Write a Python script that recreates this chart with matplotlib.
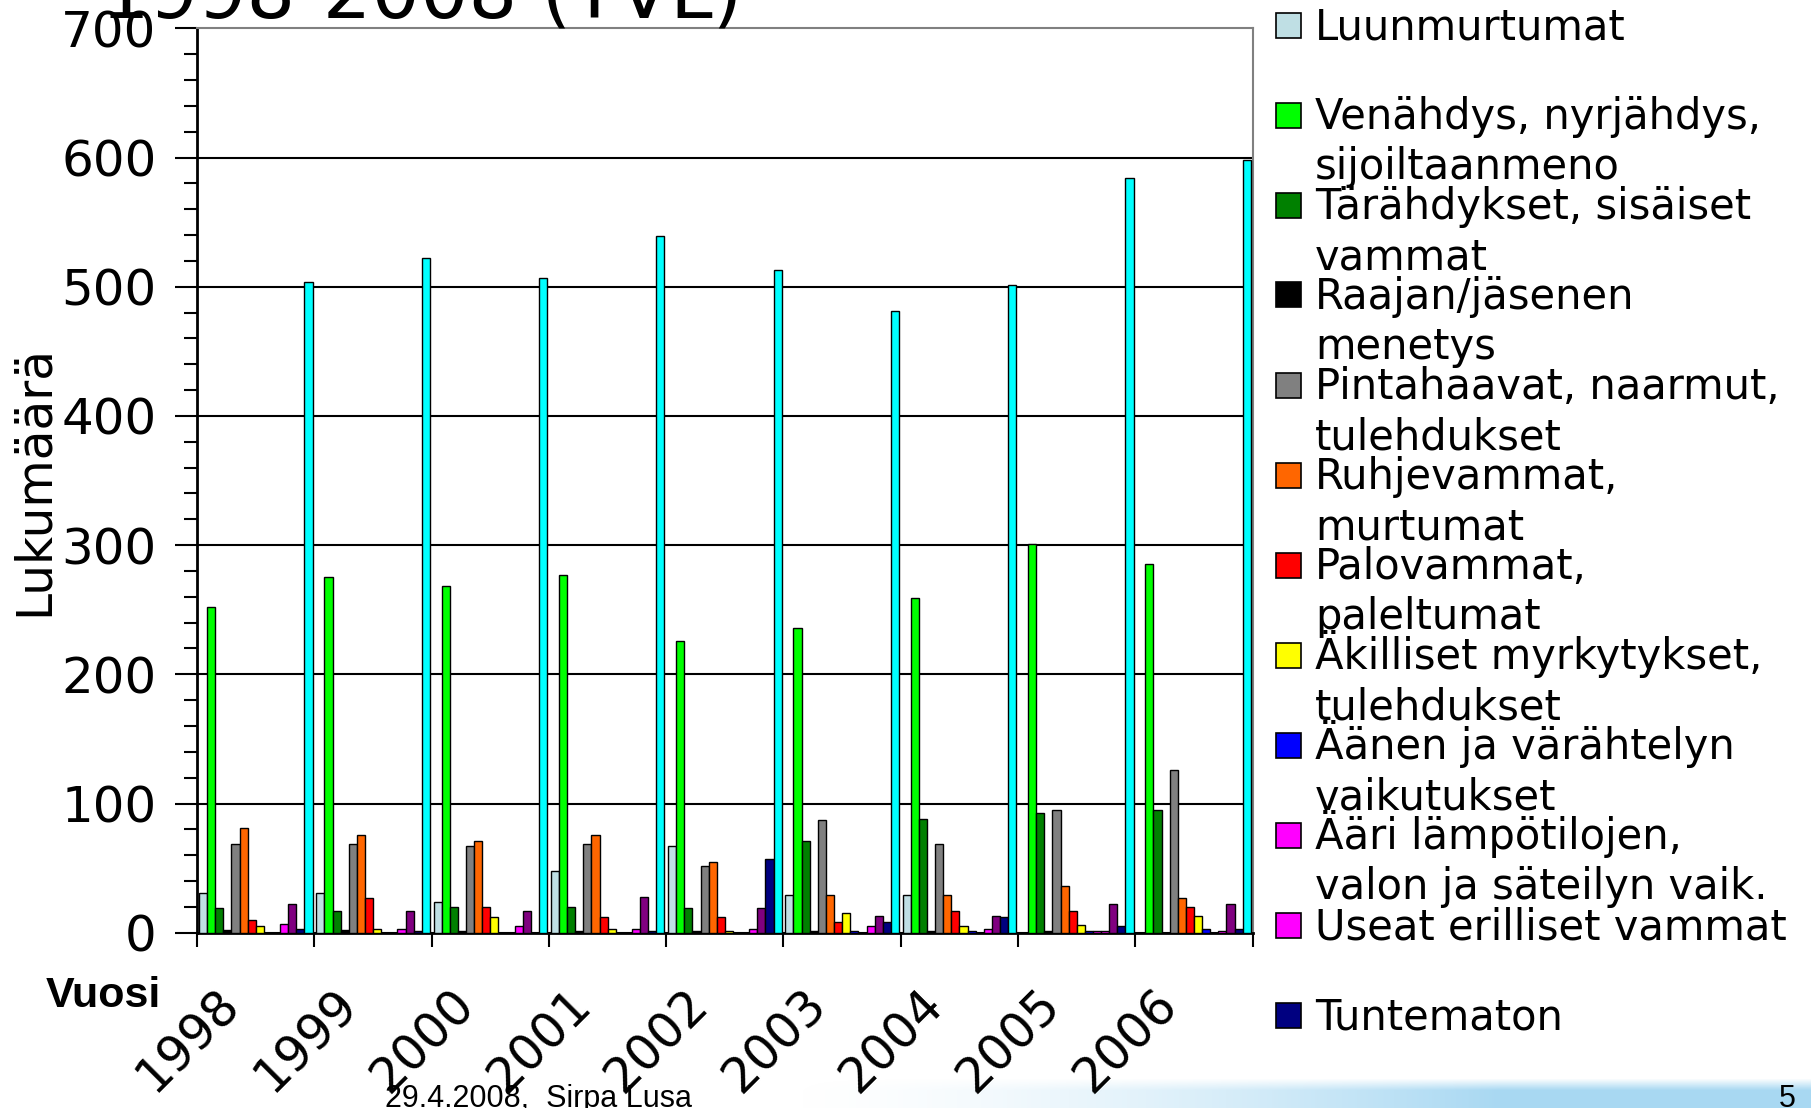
import numpy as np
import matplotlib.pyplot as plt
from matplotlib.patches import Rectangle


years = ["1998", "1999", "2000", "2001", "2002", "2003", "2004", "2005", "2006"]

# values per year (one list per injury type, in bar order)
luunmurtumat = [31, 31, 24, 48, 67, 29, 29, 0, 0]
venahdys = [252, 275, 268, 277, 226, 236, 259, 301, 285]
tarahdykset = [19, 17, 20, 20, 19, 71, 88, 93, 95]
raajan_menetys = [2, 2, 1, 1, 1, 1, 1, 1, 0]
pintahaavat = [69, 69, 67, 69, 52, 87, 69, 95, 126]
ruhjevammat = [81, 76, 71, 76, 55, 29, 29, 36, 27]
palovammat = [10, 27, 20, 12, 12, 8, 17, 17, 20]
myrkytykset = [5, 3, 12, 3, 1, 15, 5, 6, 13]
aani_varahtely = [0, 0, 0, 0, 0, 1, 1, 1, 3]
aari_lampotilat = [0, 0, 0, 0, 0, 0, 0, 1, 0]
useat_vammat = [7, 3, 5, 3, 3, 5, 3, 1, 1]
muu_violetti = [22, 17, 17, 28, 19, 13, 13, 22, 22]
tuntematon = [3, 1, 0, 1, 57, 8, 12, 5, 3]
muu_turkoosi = [504, 522, 507, 539, 513, 481, 501, 584, 598]

series = [
    ("Luunmurtumat", "#BFDFE4", luunmurtumat),
    ("Venähdys, nyrjähdys,\nsijoiltaanmeno", "#00FF00", venahdys),
    ("Tärähdykset, sisäiset\nvammat", "#008000", tarahdykset),
    ("Raajan/jäsenen\nmenetys", "#000000", raajan_menetys),
    ("Pintahaavat, naarmut,\ntulehdukset", "#808080", pintahaavat),
    ("Ruhjevammat,\nmurtumat", "#FF6600", ruhjevammat),
    ("Palovammat,\npaleltumat", "#FF0000", palovammat),
    ("Äkilliset myrkytykset,\ntulehdukset", "#FFFF00", myrkytykset),
    ("Äänen ja värähtelyn\nvaikutukset", "#0000FF", aani_varahtely),
    ("Ääri lämpötilojen,\nvalon ja säteilyn vaik.", "#FF00FF", aari_lampotilat),
    ("Useat erilliset vammat", "#FF00FF", useat_vammat),
    (None, "#800080", muu_violetti),
    ("Tuntematon", "#000080", tuntematon),
    (None, "#00FFFF", muu_turkoosi),
]

W, H = 1811, 1108
fig = plt.figure(figsize=(W / 100, H / 100), dpi=100)
ax = fig.add_axes([197 / W, 1 - 932.7 / H, (1252.5 - 197) / W, (932.7 - 28.3) / H])

x = np.arange(len(years))
slot = 0.0692
start = 0.017
for k, (name, color, vals) in enumerate(series):
    ax.bar(x + start + k * slot, vals, width=slot, align="edge", color=color,
           edgecolor="black", linewidth=1.0, zorder=3)

ax.set_xlim(0, len(years))
ax.set_ylim(0, 700)

ax.set_xticks(np.arange(len(years) + 1))
ax.set_xticklabels([])
ax.set_xticks(x + 0.154, years, minor=True)
ax.tick_params(axis="x", which="major", direction="out", length=10, width=1.5)
ax.tick_params(axis="x", which="minor", length=0, pad=34, labelsize=35)
for lbl in ax.get_xticklabels(minor=True):
    lbl.set_rotation(45)
    lbl.set_ha("right")
    lbl.set_va("top")
    lbl.set_rotation_mode("anchor")

ax.set_yticks(range(0, 701, 100))
ax.set_yticks(range(0, 701, 20), minor=True)
ax.tick_params(axis="y", which="major", length=16, width=1.5, pad=13, labelsize=36)
ax.tick_params(axis="y", which="minor", length=9.5, width=1.5)
ax.grid(axis="y", which="major", color="black", linewidth=1.5)
ax.set_axisbelow(True)
ax.yaxis.get_gridlines()[-1].set_visible(False)

for side in ["left", "bottom"]:
    ax.spines[side].set_color("black")
    ax.spines[side].set_linewidth(2)
for side in ["top", "right"]:
    ax.spines[side].set_color("#808080")
    ax.spines[side].set_linewidth(1.5)

ax.set_ylabel("Lukumäärä", fontsize=35)
ax.yaxis.set_label_coords(-0.132, 0.5)

# title, partly off the top of the slide
fig.text(0.056, 1 - 17 / H, "1998-2008 (TVL)", fontsize=55, va="baseline", ha="left")

fig.text(46 / W, 1 - 1007 / H, "Vuosi", family="Liberation Sans", fontweight="bold",
         fontsize=31, va="baseline")

# legend drawn by hand to keep the fixed row spacing of the original
row = 0
for name, color, vals in series:
    if name is None:
        continue
    cy = 25 + 90 * row
    fig.patches.append(Rectangle((1276 / W, 1 - (cy + 12.5) / H), 25 / W, 25 / H,
                                 facecolor=color, edgecolor="black", linewidth=1.2,
                                 transform=fig.transFigure, figure=fig))
    for j, line in enumerate(name.split("\n")):
        fig.text(1315 / W, 1 - (cy + 14 + 50 * j) / H, line, fontsize=30, va="baseline")
    row += 1

# slide footer
band = fig.add_axes([0.43, 0, 0.57, 0.027], zorder=-1)
band.axis("off")
gx = np.linspace(0, 1, 400)
gy = np.linspace(0, 1, 30)
img = np.zeros((30, 400, 4))
img[..., 0] = 0.66
img[..., 1] = 0.85
img[..., 2] = 0.95
img[..., 3] = (np.clip(gx / 0.7, 0, 1) ** 1.6)[None, :] * (np.clip(gy / 0.4, 0, 1))[:, None]
band.imshow(img, aspect="auto", origin="upper", extent=[0, 1, 0, 1])
band.set_xlim(0, 1)
band.set_ylim(0, 1)

fig.text(385 / W, 0.001, "29.4.2008,  Sirpa Lusa", family="Liberation Sans",
         fontsize=22, va="baseline")
fig.text(1779 / W, 0.001, "5", family="Liberation Sans", fontsize=22, va="baseline")

fig.savefig("out.png", dpi=100, facecolor="white")
